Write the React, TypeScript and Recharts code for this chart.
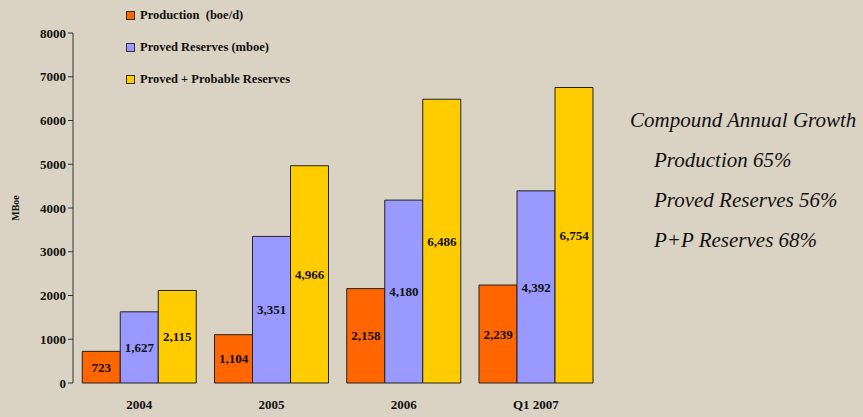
import { BarChart, Bar, XAxis, YAxis, LabelList } from 'recharts';

const categories = ['2004', '2005', '2006', 'Q1 2007'];
const production = [723, 1104, 2158, 2239];
const proved = [1627, 3351, 4180, 4392];
const provedProbable = [2115, 4966, 6486, 6754];
const yTicks = [0, 1000, 2000, 3000, 4000, 5000, 6000, 7000, 8000];
const boundaryTicks = [0, 1, 2, 3, 4];
const growthLines = ['Production 65%', 'Proved Reserves 56%', 'P+P Reserves 68%'];

const series = [
  { key: 'production', name: 'Production  (boe/d)', color: '#FF6600' },
  { key: 'proved', name: 'Proved Reserves (mboe)', color: '#9999FF' },
  { key: 'pp', name: 'Proved + Probable Reserves', color: '#FFCC00' },
];

const data = categories.map((c, i) => ({
  name: c,
  production: production[i],
  proved: proved[i],
  pp: provedProbable[i],
}));

const serif = "'Liberation Serif', serif";
const bg = '#DAD3C3';

const fmt = (v: any) => Number(v).toLocaleString('en-US');

export default function App() {
  return (
    <div style={{ position: 'fixed', left: 0, top: 0, width: 863, height: 417, background: bg }}>
      <BarChart
        width={863}
        height={417}
        data={data}
        margin={{ top: 33, right: 261, left: 28, bottom: 4 }}
        barCategoryGap="7%"
        barGap={0}
      >
        <XAxis
          xAxisId="b"
          type="number"
          domain={[0, 4]}
          ticks={boundaryTicks}
          tick={false}
          height={0}
          axisLine={{ stroke: '#333' }}
          tickLine={{ stroke: '#333' }}
          tickSize={5}
        />
        <XAxis
          xAxisId="cat"
          dataKey="name"
          axisLine={false}
          tickLine={false}
          height={30}
          tickMargin={11}
          tick={{ fontFamily: serif, fontWeight: 'bold', fontSize: 13, fill: '#111' }}
        />
        <YAxis
          domain={[0, 8000]}
          ticks={yTicks}
          width={45}
          axisLine={{ stroke: '#333' }}
          tickLine={{ stroke: '#333' }}
          tickSize={5}
          tick={{ fontFamily: serif, fontWeight: 'bold', fontSize: 13, fill: '#111' }}
          label={{
            value: 'MBoe',
            angle: -90,
            position: 'insideLeft',
            offset: -13,
            style: { fontFamily: serif, fontWeight: 'bold', fontSize: 10, fill: '#111', textAnchor: 'middle' },
          }}
        />
        {series.map((s) => (
          <Bar
            key={s.key}
            xAxisId="cat"
            dataKey={s.key}
            name={s.name}
            fill={s.color}
            stroke="#222"
            strokeWidth={1}
            isAnimationActive={false}
          >
            <LabelList
              dataKey={s.key}
              position="center"
              formatter={fmt}
              style={{ fontFamily: serif, fontWeight: 'bold', fontSize: 13, fill: '#111' }}
            />
          </Bar>
        ))}
      </BarChart>

      {/* legend */}
      <div
        style={{
          position: 'absolute',
          left: 126,
          top: 7,
          fontFamily: serif,
          fontWeight: 'bold',
          fontSize: 12.5,
          color: '#111',
          whiteSpace: 'pre',
        }}
      >
        {series.map((s) => (
          <div key={s.key} style={{ display: 'flex', alignItems: 'center', height: 16, marginBottom: 16 }}>
            <span
              style={{
                display: 'inline-block',
                width: 7,
                height: 7,
                background: s.color,
                border: '1px solid #333',
                marginRight: 5,
              }}
            />
            {s.name}
          </div>
        ))}
      </div>

      {/* growth note */}
      <div
        style={{
          position: 'absolute',
          left: 630,
          top: 106,
          fontFamily: serif,
          fontStyle: 'italic',
          fontSize: 21,
          lineHeight: '40px',
          color: '#111',
          whiteSpace: 'nowrap',
        }}
      >
        <div style={{ height: 40, marginTop: -6 }}>Compound Annual Growth</div>
        {growthLines.map((t) => (
          <div key={t} style={{ height: 40, paddingLeft: 24 }}>
            {t}
          </div>
        ))}
      </div>
    </div>
  );
}
